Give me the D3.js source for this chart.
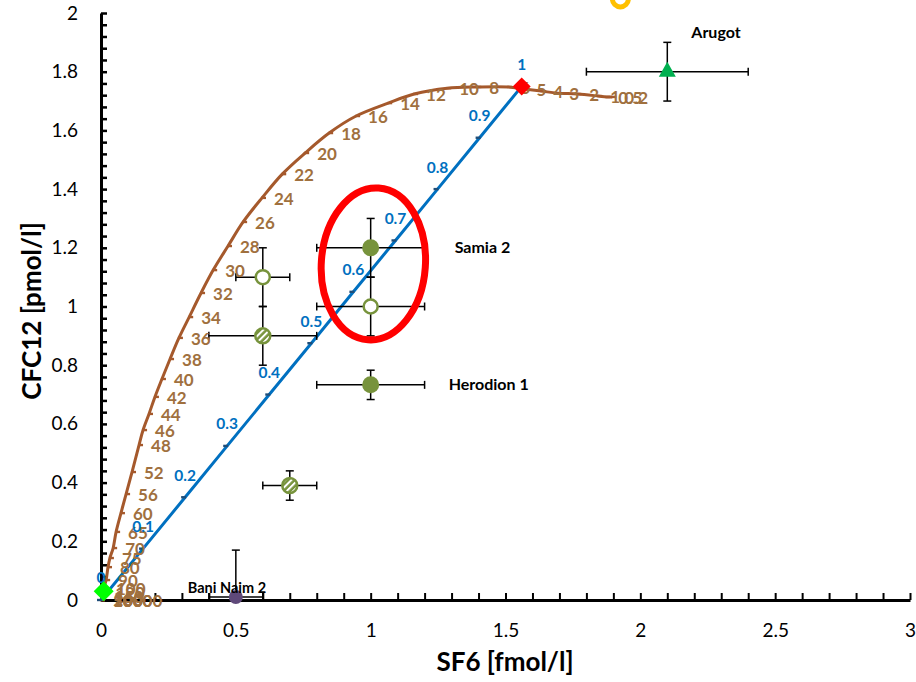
<!DOCTYPE html>
<html>
<head>
<meta charset="utf-8">
<script src="https://cdn.jsdelivr.net/npm/d3@7"></script>
<style>
  body { margin: 0; background: #fff; }
  svg { display: block; font-family: Lato, "Open Sans", sans-serif; }
</style>
</head>
<body>
<svg id="chart" width="916" height="682"></svg>
<script>
// Piston flow curve, labelled by age in years
const pfmAges = ['0.2', '0.5', '1', '2', '3', '4', '5', '6', '8', '10', '12', '14', '16', '18', '20', '22', '24', '26', '28', '30',
  '32', '34', '36', '38', '40', '42', '44', '46', '48', '52', '56', '60', '65', '70', '75', '80', '90', '100', '120', '150',
  '200', '500', '1000', '10000'];
const pfmSF6 = [1.896, 1.874, 1.844, 1.766, 1.692, 1.633, 1.570, 1.510, 1.395, 1.284, 1.161, 1.065, 0.946, 0.846, 0.757,
  0.672, 0.597, 0.527, 0.471, 0.416, 0.371, 0.327, 0.289, 0.256, 0.226, 0.200, 0.178, 0.156, 0.141, 0.115, 0.093,
  0.074, 0.056, 0.045, 0.033, 0.026, 0.019, 0.011, 0.008, 0.004, 0.002, 0, 0, 0];
const pfmCFC = [1.714, 1.714, 1.717, 1.724, 1.727, 1.734, 1.741, 1.748, 1.748, 1.744, 1.724, 1.693, 1.649, 1.591, 1.523,
  1.451, 1.370, 1.288, 1.206, 1.124, 1.046, 0.964, 0.893, 0.821, 0.753, 0.692, 0.634, 0.579, 0.528, 0.436, 0.361,
  0.296, 0.232, 0.177, 0.143, 0.112, 0.068, 0.041, 0.028, 0.012, 0.004, 0, 0, 0];

// Binary mixing line, labelled by young fraction
const mixFrac = ['0', '0.1', '0.2', '0.3', '0.4', '0.5', '0.6', '0.7', '0.8', '0.9', '1'];
const mixSF6 = [0, 0.156, 0.312, 0.468, 0.624, 0.78, 0.936, 1.092, 1.248, 1.404, 1.56];
const mixCFC = [0, 0.175, 0.35, 0.525, 0.7, 0.875, 1.05, 1.225, 1.4, 1.575, 1.75];

// End members
const oldWater = [0.01, 0.03];
const youngWater = [1.56, 1.75];

// Samples
const sampleNames = ['Samia 2', '', '', '', 'Herodion 1', '', 'Bani Naim 2', 'Arugot', ''];
const sampleKind = ['filled', 'open', 'open', 'hatched', 'filled', 'hatched', 'purple', 'triangle', 'ring'];
const sampleSF6 = [1.0, 1.0, 0.6, 0.6, 1.0, 0.7, 0.5, 2.1, 1.926];
const sampleCFC = [1.2, 1.0, 1.1, 0.9, 0.733, 0.39, 0.01, 1.8, 2.048];
const sampleErrSF6 = [0.2, 0.2, 0.1, 0.2, 0.2, 0.1, 0.1, 0.3, 0];
const sampleErrCFC = [0.1, 0.1, 0.1, 0.1, 0.05, 0.05, 0.16, 0.1, 0];

const xTicks = [0, 0.5, 1, 1.5, 2, 2.5, 3];
const yTicks = [0, 0.2, 0.4, 0.6, 0.8, 1, 1.2, 1.4, 1.6, 1.8, 2];

const svg = d3.select('#chart');
const x = d3.scaleLinear().domain([0, 3]).range([101, 910]);
const y = d3.scaleLinear().domain([0, 2]).range([600, 13]);

const brown = '#A5592C';
const brownText = '#A0703E';
const blue = '#0070C0';
const olive = '#77933C';

const defs = svg.append('defs');
defs.append('clipPath').attr('id', 'plotClip')
  .append('rect').attr('x', 0).attr('y', -20).attr('width', 916).attr('height', 620);
const hatch = defs.append('pattern').attr('id', 'hatch')
  .attr('patternUnits', 'userSpaceOnUse').attr('width', 4.5).attr('height', 4.5)
  .attr('patternTransform', 'rotate(45)');
hatch.append('rect').attr('width', 4.5).attr('height', 4.5).attr('fill', olive);
hatch.append('rect').attr('width', 2).attr('height', 4.5).attr('fill', '#fff');

// Axes: minor ticks inside, labels outside
const xMinor = d3.range(0, 31).map(i => i / 10);
const yMinor = d3.range(0, 51).map(i => i * 0.04);

svg.append('g').attr('transform', 'translate(0,600)')
  .call(d3.axisBottom(x).tickValues(xMinor).tickSizeInner(-7).tickSizeOuter(0).tickFormat(''))
  .call(g => g.selectAll('line').attr('stroke', '#000').attr('stroke-width', 2))
  .call(g => g.select('.domain').attr('stroke', '#000').attr('stroke-width', 3));

svg.append('g').attr('transform', 'translate(0,600)')
  .call(d3.axisBottom(x).tickValues(xTicks).tickSize(0).tickPadding(24).tickFormat(d => String(d)))
  .call(g => g.select('.domain').remove())
  .call(g => g.selectAll('text').attr('font-size', 19).attr('font-family', 'Lato').attr('fill', '#000'));

svg.append('g').attr('transform', 'translate(101,0)')
  .call(d3.axisLeft(y).tickValues(yMinor).tickSizeInner(-6).tickSizeOuter(0).tickFormat(''))
  .call(g => g.selectAll('line').attr('stroke', '#000').attr('stroke-width', 2.5))
  .call(g => g.select('.domain').attr('stroke', '#000').attr('stroke-width', 3));

svg.append('g').attr('transform', 'translate(101,0)')
  .call(d3.axisLeft(y).tickValues(yTicks).tickSize(0).tickPadding(23).tickFormat(d => String(d)))
  .call(g => g.select('.domain').remove())
  .call(g => g.selectAll('text').attr('font-size', 19).attr('font-family', 'Lato').attr('fill', '#000'));

// Axis titles
svg.append('text').attr('x', 505).attr('y', 671).attr('text-anchor', 'middle')
  .attr('font-size', 26).attr('font-weight', 'bold').text('SF6 [fmol/l]');
svg.append('text').attr('transform', 'translate(41,311) rotate(-90)').attr('text-anchor', 'middle')
  .attr('font-size', 26).attr('font-weight', 'bold').text('CFC12 [pmol/l]');

// Piston flow curve
const pfm = pfmAges.map((a, i) => ({ label: a, sf6: pfmSF6[i], cfc: pfmCFC[i] }));
const line = d3.line().curve(d3.curveCatmullRom.alpha(0.5)).x(d => x(d.sf6)).y(d => y(d.cfc));
svg.append('path').datum(pfm).attr('d', line)
  .attr('fill', 'none').attr('stroke', brown).attr('stroke-width', 3);
svg.append('g').selectAll('rect').data(pfm).join('rect')
  .attr('x', d => x(d.sf6) - 1).attr('y', d => y(d.cfc) - 1.2)
  .attr('width', 5).attr('height', 2.4).attr('fill', brown);

// Mixing line
const mix = mixFrac.map((f, i) => ({ label: f, sf6: mixSF6[i], cfc: mixCFC[i] }));
svg.append('path').datum(mix).attr('d', d3.line().x(d => x(d.sf6)).y(d => y(d.cfc)))
  .attr('fill', 'none').attr('stroke', blue).attr('stroke-width', 3);
svg.append('g').selectAll('rect').data(mix).join('rect')
  .attr('x', d => x(d.sf6) - 4).attr('y', d => y(d.cfc) - 1.2)
  .attr('width', 5).attr('height', 2.4).attr('fill', '#1F4E79');

// Error bars
const samples = sampleKind.map((k, i) => ({
  kind: k, name: sampleNames[i], sf6: sampleSF6[i], cfc: sampleCFC[i], ex: sampleErrSF6[i], ey: sampleErrCFC[i]
}));
const err = svg.append('g').attr('clip-path', 'url(#plotClip)')
  .attr('stroke', '#000').attr('stroke-width', 1.5);
samples.filter(d => d.ex > 0).forEach(d => {
  const cy = y(d.cfc);
  const x0 = x(d.sf6 - d.ex);
  const x1 = x(d.sf6 + d.ex);
  err.append('line').attr('x1', x0).attr('x2', x1).attr('y1', cy).attr('y2', cy);
  [x0, x1].forEach(v => err.append('line').attr('x1', v).attr('x2', v).attr('y1', cy - 4).attr('y2', cy + 4));
  const cx = x(d.sf6);
  const y0 = y(d.cfc + d.ey);
  const y1 = y(d.cfc - d.ey);
  err.append('line').attr('x1', cx).attr('x2', cx).attr('y1', y0).attr('y2', y1);
  [y0, y1].forEach(v => err.append('line').attr('x1', cx - 4).attr('x2', cx + 4).attr('y1', v).attr('y2', v));
});

// Point labels
svg.append('g').selectAll('text').data(pfm).join('text')
  .attr('x', d => x(d.sf6) + 12).attr('y', d => y(d.cfc) + 1).attr('dy', '0.35em')
  .attr('font-size', 17).attr('font-weight', 'bold').attr('fill', brownText)
  .text(d => d.label);
svg.append('g').selectAll('text').data(mix).join('text')
  .attr('x', d => x(d.sf6)).attr('y', d => y(d.cfc) - 22).attr('dy', '0.35em')
  .attr('text-anchor', 'middle')
  .attr('font-size', 15.5).attr('font-weight', 'bold').attr('fill', blue)
  .text(d => d.label);

// Sample markers
const marks = svg.append('g');
samples.forEach(d => {
  const cx = x(d.sf6);
  const cy = y(d.cfc);
  if (d.kind === 'filled') {
    marks.append('circle').attr('cx', cx).attr('cy', cy).attr('r', 8.5).attr('fill', olive);
  } else if (d.kind === 'open') {
    marks.append('circle').attr('cx', cx).attr('cy', cy).attr('r', 7).attr('fill', '#fff')
      .attr('stroke', olive).attr('stroke-width', 2.5);
  } else if (d.kind === 'hatched') {
    marks.append('circle').attr('cx', cx).attr('cy', cy).attr('r', 7.5).attr('fill', 'url(#hatch)')
      .attr('stroke', olive).attr('stroke-width', 2.5);
  } else if (d.kind === 'purple') {
    marks.append('circle').attr('cx', cx).attr('cy', cy).attr('r', 7).attr('fill', '#5F497A');
  } else if (d.kind === 'triangle') {
    marks.append('path').attr('d', `M${cx},${cy - 10}L${cx + 8.5},${cy + 5}L${cx - 8.5},${cy + 5}Z`)
      .attr('fill', '#00B050');
  } else if (d.kind === 'ring') {
    marks.append('circle').attr('cx', cx).attr('cy', cy).attr('r', 8).attr('fill', 'none')
      .attr('stroke', '#FFC000').attr('stroke-width', 5);
  }
});

// End member diamonds
const diamond = (cx, cy, s) => `M${cx},${cy - s}L${cx + s},${cy}L${cx},${cy + s}L${cx - s},${cy}Z`;
svg.append('path').attr('d', diamond(x(youngWater[0]), y(youngWater[1]), 9)).attr('fill', '#FF0000');
svg.append('path').attr('d', diamond(x(oldWater[0]), y(oldWater[1]), 10)).attr('fill', '#00FF00');

// Sample names
const nameOffset = { 'Samia 2': [84, 0], 'Herodion 1': [78, 0], 'Bani Naim 2': [-48, -9], 'Arugot': [24, -39] };
svg.append('g').selectAll('text').data(samples.filter(d => d.name)).join('text')
  .attr('x', d => x(d.sf6) + nameOffset[d.name][0])
  .attr('y', d => y(d.cfc) + nameOffset[d.name][1]).attr('dy', '0.35em')
  .attr('font-size', d => d.name === 'Bani Naim 2' ? 14.5 : 16).attr('font-weight', 'bold').attr('fill', '#000')
  .text(d => d.name);

// Highlight ellipse round Samia 2
svg.append('ellipse')
  .attr('transform', `translate(${x(1.01)},${y(1.145)}) rotate(4)`)
  .attr('rx', x(0.193) - x(0)).attr('ry', y(0) - y(0.259))
  .attr('fill', 'none').attr('stroke', '#FF0000').attr('stroke-width', 7);
</script>
</body>
</html>
